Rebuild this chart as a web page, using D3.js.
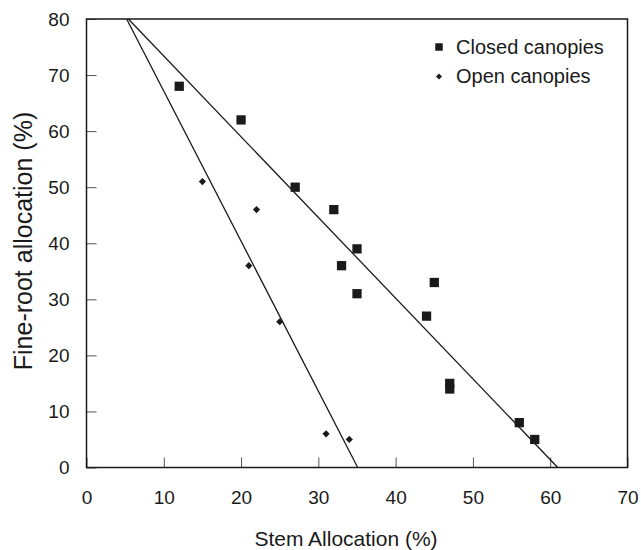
<!DOCTYPE html>
<html>
<head>
<meta charset="utf-8">
<script src="https://cdn.jsdelivr.net/npm/d3@7"></script>
<style>
  html, body { margin: 0; padding: 0; background: #fff; }
  svg { display: block; font-family: "Liberation Sans", Arial, sans-serif; }
</style>
</head>
<body>
<svg id="chart" width="641" height="550"></svg>
<script>
// ---- Data ----
const closedX = [12, 20, 27, 32, 35, 33, 35, 45, 44, 47, 47, 56, 58];
const closedY = [68, 62, 50, 46, 39, 36, 31, 33, 27, 15, 14, 8, 5];
const openX = [15, 22, 21, 25, 31, 34];
const openY = [51, 46, 36, 26, 6, 5];
// regression lines: [intercept, slope]
const closedFit = [87.8, -1.44];
const openFit = [93.9, -2.676];
const xTicks = [0, 10, 20, 30, 40, 50, 60, 70];
const yTicks = [0, 10, 20, 30, 40, 50, 60, 70, 80];
const seriesNames = ["Closed canopies", "Open canopies"];

// ---- Layout ----
const svg = d3.select("#chart");
const mLeft = 86.5, mRight = 627.5, mTop = 19, mBottom = 467.5;
const x = d3.scaleLinear().domain([0, 70]).range([mLeft, mRight]);
const y = d3.scaleLinear().domain([0, 80]).range([mBottom, mTop]);
const ink = "#1a1a1a";

// axes
const xAxis = d3.axisBottom(x).tickValues(xTicks).tickSizeInner(-10).tickSizeOuter(0).tickPadding(23);
const yAxis = d3.axisLeft(y).tickValues(yTicks).tickSizeInner(-10).tickSizeOuter(0).tickPadding(17);

const gx = svg.append("g").attr("transform", `translate(0,${mBottom})`).call(xAxis);
const gy = svg.append("g").attr("transform", `translate(${mLeft},0)`).call(yAxis);
[gx, gy].forEach(g => {
  g.select(".domain").remove();
  g.selectAll(".tick line").attr("stroke", "#555").attr("stroke-width", 1);
  g.selectAll(".tick text").attr("fill", ink).style("font-size", "19px")
    .style("font-family", "'Liberation Sans', Arial, sans-serif");
});

// frame
svg.append("rect")
  .attr("x", mLeft).attr("y", mTop)
  .attr("width", mRight - mLeft).attr("height", mBottom - mTop)
  .attr("fill", "none").attr("stroke", ink).attr("stroke-width", 1.5);

// regression lines (from y=80 down to y=0)
function fitLine(fit) {
  const [a, b] = fit;
  const x0 = (80 - a) / b, x1 = (0 - a) / b;
  return [[x0, 80], [x1, 0]];
}
const line = d3.line().x(d => x(d[0])).y(d => y(d[1]));
[closedFit, openFit].forEach(f => {
  svg.append("path").attr("d", line(fitLine(f)))
    .attr("fill", "none").attr("stroke", ink).attr("stroke-width", 1.3);
});

// points
const sq = d3.symbol().type(d3.symbolSquare).size(86);
const di = d3.symbol().type(d3.symbolSquare).size(26);
svg.append("g").selectAll("path").data(closedX.map((v, i) => [v, closedY[i]]))
  .join("path").attr("d", sq)
  .attr("transform", d => `translate(${x(d[0])},${y(d[1])})`)
  .attr("fill", ink);
svg.append("g").selectAll("path").data(openX.map((v, i) => [v, openY[i]]))
  .join("path").attr("d", di)
  .attr("transform", d => `translate(${x(d[0])},${y(d[1])}) rotate(45)`)
  .attr("fill", ink);

// legend
const lg = svg.append("g");
lg.append("path").attr("d", d3.symbol().type(d3.symbolSquare).size(56))
  .attr("transform", "translate(439,47)").attr("fill", ink);
lg.append("path").attr("d", d3.symbol().type(d3.symbolSquare).size(18))
  .attr("transform", "translate(439,76.5) rotate(45)").attr("fill", ink);
lg.append("text").attr("x", 456).attr("y", 54).text(seriesNames[0])
  .attr("fill", ink).style("font-size", "20px");
lg.append("text").attr("x", 456).attr("y", 83).text(seriesNames[1])
  .attr("fill", ink).style("font-size", "20px");

// axis titles
svg.append("text").attr("x", 346).attr("y", 546).attr("text-anchor", "middle")
  .attr("fill", ink).style("font-size", "21px").text("Stem Allocation (%)");
svg.append("text").attr("transform", "translate(32,241) rotate(-90)")
  .attr("text-anchor", "middle").attr("fill", ink).style("font-size", "25px")
  .text("Fine-root allocation (%)");
</script>
</body>
</html>
